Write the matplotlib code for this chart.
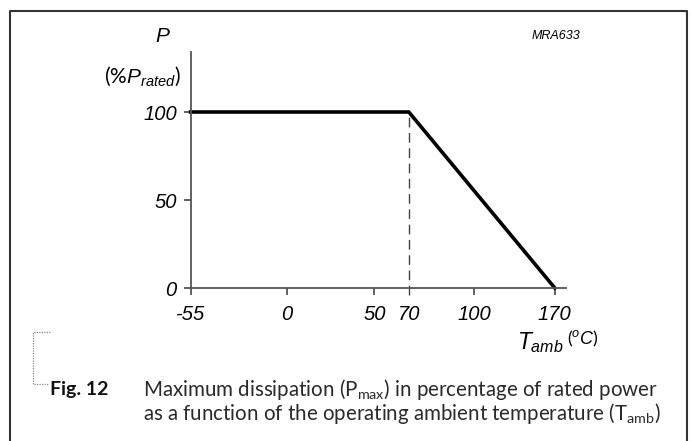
import numpy as np
import matplotlib
matplotlib.use('Agg')
import matplotlib.pyplot as plt
from matplotlib.lines import Line2D

plt.rcParams['mathtext.fontset'] = 'custom'
plt.rcParams['mathtext.it'] = 'Liberation Sans:italic'
plt.rcParams['mathtext.rm'] = 'Lato'

# data: derating curve
temp = [-55, 70, 170]
power = [100, 100, 0]
knee_t = 70

x_ticks = [-55, 0, 50, 70, 100, 170]
x_labels = ['-55', '0', '50', '70', '100', '170']
y_ticks = [0, 50, 100]
y_labels = ['0', '50', '100']

# the drawing's temperature axis is not linear: pixel position of each tick
x_pos = [190.7, 287.0, 374.3, 408.8, 474.4, 554.8]

W, H = 691, 441


def fwd(v):
    v = np.asarray(v, dtype=float)
    out = np.interp(v, x_ticks, x_pos)
    s_hi = (x_pos[-1] - x_pos[-2]) / (x_ticks[-1] - x_ticks[-2])
    s_lo = (x_pos[1] - x_pos[0]) / (x_ticks[1] - x_ticks[0])
    out = np.where(v > x_ticks[-1], x_pos[-1] + (v - x_ticks[-1]) * s_hi, out)
    out = np.where(v < x_ticks[0], x_pos[0] + (v - x_ticks[0]) * s_lo, out)
    return out


def inv(p):
    p = np.asarray(p, dtype=float)
    out = np.interp(p, x_pos, x_ticks)
    s_hi = (x_ticks[-1] - x_ticks[-2]) / (x_pos[-1] - x_pos[-2])
    s_lo = (x_ticks[1] - x_ticks[0]) / (x_pos[1] - x_pos[0])
    out = np.where(p > x_pos[-1], x_ticks[-1] + (p - x_pos[-1]) * s_hi, out)
    out = np.where(p < x_pos[0], x_ticks[0] + (p - x_pos[0]) * s_lo, out)
    return out


fig = plt.figure(figsize=(W / 100, H / 100), dpi=100)

# axes box in pixels
ax_l, ax_r = 190.7, 566.0
ax_b, ax_t = 288.0, 52.0
ax = fig.add_axes([ax_l / W, 1 - ax_b / H, (ax_r - ax_l) / W, (ax_b - ax_t) / H])
ax.set_xscale('function', functions=(fwd, inv))
ax.set_xlim(-55, float(inv(ax_r)))
ax.set_ylim(0, (ax_b - ax_t) / 1.76)
ax.patch.set_alpha(0)

ax.plot(temp, power, color='black', lw=2.6, solid_joinstyle='miter', clip_on=False)
ax.plot([knee_t, knee_t], [-4, 100], color='#444444', lw=1.0,
        dashes=(7, 4), clip_on=False)

for s in ['top', 'right']:
    ax.spines[s].set_visible(False)
for s in ['left', 'bottom']:
    ax.spines[s].set_color('#555555')
    ax.spines[s].set_linewidth(1.3)

ax.set_xticks(x_ticks)
ax.set_xticklabels(x_labels)
ax.set_yticks(y_ticks)
ax.set_yticklabels(y_labels)
ax.tick_params(axis='both', direction='out', length=5, width=1.3, color='#555555',
               labelsize=14.5)
ax.tick_params(axis='y', pad=5)
ax.tick_params(axis='x', pad=7)
# no tick mark at 70 (the dashed line marks it)
ax.xaxis.get_major_ticks()[3].tick1line.set_visible(False)
for lab in ax.get_xticklabels() + ax.get_yticklabels():
    lab.set_fontfamily('Liberation Sans')
    lab.set_fontstyle('italic')

# axis titles
fig.text(162 / W, 1 - 37 / H, 'P', fontsize=15, family='Liberation Sans',
         style='italic', ha='center', va='center')
fig.text(142 / W, 1 - 76 / H, r'$\mathit{(\%P_{rated})}$', fontsize=15,
         ha='center', va='center')
fig.text(540 / W, 1 - 343 / H, r'$\mathit{T_{amb}}$', fontsize=16.5,
         ha='center', va='center')
fig.text(567 / W, 1 - 339 / H, r'$\mathit{(^{o}C)}$', fontsize=13,
         ha='left', va='center')
fig.text(556 / W, 1 - 36 / H, 'MRA633', fontsize=9, family='Liberation Sans',
         style='italic', ha='center', va='center')

# caption
fig.text(50 / W, 1 - 389 / H, 'Fig. 12', fontsize=14, family='Lato',
         weight='bold', ha='left', va='center', color='#111111')
fig.text(143 / W, 1 - 389 / H,
         r'Maximum dissipation (P$_{\mathrm{max}}$) in percentage of rated power',
         fontsize=14.8, family='Lato', ha='left', va='center', color='#2a2a2a')
fig.text(143 / W, 1 - 414 / H,
         r'as a function of the operating ambient temperature (T$_{\mathrm{amb}}$)',
         fontsize=14.8, family='Lato', ha='left', va='center', color='#2a2a2a')

# page frame
frame_x = [10, 10, 687, 687]
frame_y = [441, 11, 11, 441]
fig.add_artist(Line2D([x / W for x in frame_x], [1 - y / H for y in frame_y],
                      color='#333333', lw=1.5, transform=fig.transFigure))
# dotted bracket
br_x = [50, 33, 33, 48]
br_y = [332, 332, 384, 384]
fig.add_artist(Line2D([x / W for x in br_x], [1 - y / H for y in br_y],
                      color='#888888', lw=0.9, ls=(0, (1, 1)),
                      transform=fig.transFigure))

fig.savefig('out.png', dpi=100)
